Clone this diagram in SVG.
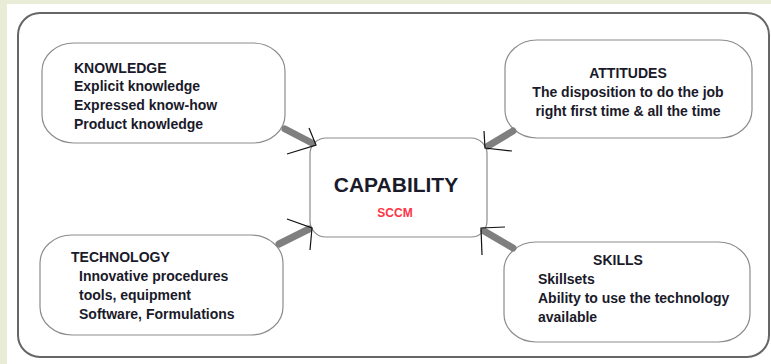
<svg xmlns="http://www.w3.org/2000/svg" width="771" height="364" viewBox="0 0 771 364">
<style>
.node{fill:#fff;stroke:#8c8c8c;stroke-width:1.2}
.t{font-family:"Liberation Sans",Arial,sans-serif;font-weight:bold;font-size:14px;fill:#1a1a2a}
.shaft{stroke:#7f7f7f;stroke-width:7;stroke-linecap:round;fill:none}
.head{stroke:#111;stroke-width:1.2;fill:none}
</style>
<rect x="0" y="0" width="771" height="364" fill="#ffffff"/>
<rect x="0" y="0" width="7" height="364" fill="#e9edd8"/>
<rect x="0" y="0" width="771" height="4" fill="#e9edd8"/>
<rect x="18" y="13" width="751" height="344" rx="22" ry="22" fill="#fff" stroke="#666" stroke-width="2"/>
<g id="knowledge">
<rect class="node" x="42" y="43" width="243" height="100" rx="32" ry="28"/>
<text class="t" x="74" y="73">KNOWLEDGE</text>
<text class="t" x="74" y="91">Explicit knowledge</text>
<text class="t" x="74" y="110">Expressed know-how</text>
<text class="t" x="74" y="129">Product knowledge</text>
</g>
<g id="attitudes">
<rect class="node" x="505" y="40" width="247" height="98" rx="32" ry="28"/>
<text class="t" x="628" y="78" text-anchor="middle">ATTITUDES</text>
<text class="t" x="628" y="97" text-anchor="middle">The disposition to do the job</text>
<text class="t" x="628" y="116" text-anchor="middle">right first time &amp; all the time</text>
</g>
<g id="technology">
<rect class="node" x="40" y="235" width="243" height="100" rx="32" ry="28"/>
<text class="t" x="71" y="262">TECHNOLOGY</text>
<text class="t" x="79" y="281">Innovative procedures</text>
<text class="t" x="79" y="300">tools, equipment</text>
<text class="t" x="79" y="319">Software, Formulations</text>
</g>
<g id="skills">
<rect class="node" x="504" y="242" width="246" height="100" rx="32" ry="28"/>
<text class="t" x="618" y="265" text-anchor="middle">SKILLS</text>
<text class="t" x="538" y="284">Skillsets</text>
<text class="t" x="538" y="303">Ability to use the technology</text>
<text class="t" x="538" y="322">available</text>
</g>
<g id="capability">
<rect class="node" x="310" y="138" width="177" height="99" rx="16" ry="16"/>
<text x="396" y="192" text-anchor="middle" font-family="'Liberation Sans',Arial,sans-serif" font-weight="bold" font-size="21" fill="#1a1a2a">CAPABILITY</text>
<text x="395" y="217" text-anchor="middle" font-family="'Liberation Sans',Arial,sans-serif" font-weight="bold" font-size="12" fill="#ff3344">SCCM</text>
</g>
<g id="connectors">
<line class="shaft" x1="285" y1="129" x2="312" y2="143"/>
<polyline class="head" points="309,128 316,145 287,154"/>
<line class="shaft" x1="513" y1="131" x2="488" y2="146"/>
<polyline class="head" points="484,131 485,148 512,151"/>
<line class="shaft" x1="279" y1="244" x2="309" y2="229"/>
<polyline class="head" points="287,219 312,228 310,250"/>
<line class="shaft" x1="513" y1="248" x2="484" y2="231"/>
<polyline class="head" points="505,227 481,228 482,255"/>
</g>
</svg>
